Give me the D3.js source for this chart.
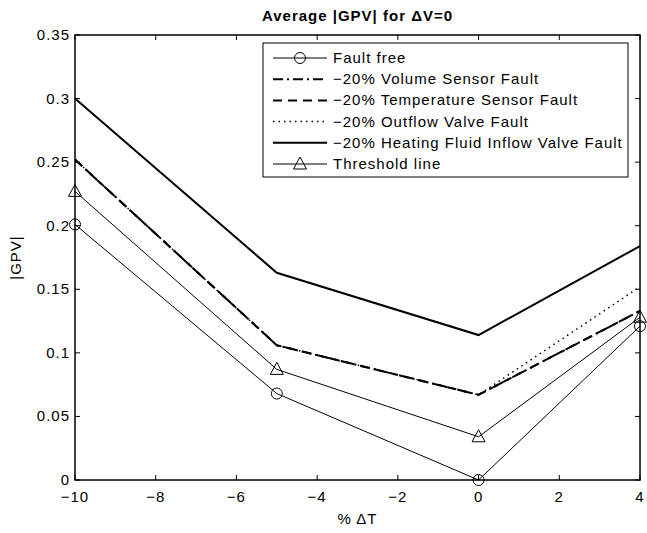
<!DOCTYPE html>
<html>
<head>
<meta charset="utf-8">
<script src="https://cdn.jsdelivr.net/npm/d3@7"></script>
<style>
  body { margin: 0; background: #fff; }
  svg text { font-family: "Liberation Sans", Arial, sans-serif; font-size: 15px; letter-spacing: 1px; fill: #000; }
</style>
</head>
<body>
<div id="chart"></div>
<script>
// Values
const deltaT = [-10, -5, 0, 4];
const faultFree = [0.201, 0.068, 0.000, 0.121];
const volumeSensor = [0.252, 0.106, 0.067, 0.133];
const temperatureSensor = [0.252, 0.106, 0.067, 0.133];
const outflowValve = [0.252, 0.106, 0.067, 0.152];
const heatingValve = [0.300, 0.163, 0.114, 0.184];
const threshold = [0.227, 0.087, 0.034, 0.128];

const xTicks = [-10, -8, -6, -4, -2, 0, 2, 4];
const yTicks = [0, 0.05, 0.1, 0.15, 0.2, 0.25, 0.3, 0.35];
const yTickLabels = ["0", "0.05", "0.1", "0.15", "0.2", "0.25", "0.3", "0.35"];

const seriesNames = [
  "Fault free",
  "\u221220% Volume Sensor Fault",
  "\u221220% Temperature Sensor Fault",
  "\u221220% Outflow Valve Fault",
  "\u221220% Heating Fluid Inflow Valve Fault",
  "Threshold line"
];

const width = 647;
const height = 533;
const margin = { top: 35, right: 7, bottom: 53, left: 75 };

const svg = d3.select("#chart")
  .append("svg")
  .attr("width", width)
  .attr("height", height);

const xScale = d3.scaleLinear()
  .domain([-10, 4])
  .range([margin.left, width - margin.right]);

const yScale = d3.scaleLinear()
  .domain([0, 0.35])
  .range([height - margin.bottom, margin.top]);

// series styling
const styles = [
  { values: faultFree, width: 1, dash: null, marker: "circle" },
  { values: volumeSensor, width: 2, dash: "10,4,2,4", marker: null },
  { values: temperatureSensor, width: 2, dash: "9,6", marker: null },
  { values: outflowValve, width: 1.5, dash: "1.5,4", marker: null },
  { values: heatingValve, width: 2, dash: null, marker: null },
  { values: threshold, width: 1, dash: null, marker: "triangle" }
];

const line = d3.line()
  .x(d => xScale(d[0]))
  .y(d => yScale(d[1]));

function drawMarker(g, type, x, y) {
  if (type === "circle") {
    g.append("circle")
      .attr("cx", x).attr("cy", y).attr("r", 5.5)
      .attr("fill", "none").attr("stroke", "#000").attr("stroke-width", 1);
  } else if (type === "triangle") {
    g.append("path")
      .attr("d", `M${x},${y - 7}L${x + 6.5},${y + 5}L${x - 6.5},${y + 5}Z`)
      .attr("fill", "none").attr("stroke", "#000").attr("stroke-width", 1);
  }
}

// Lines
const plot = svg.append("g");
styles.forEach(s => {
  const pts = deltaT.map((t, i) => [t, s.values[i]]);
  plot.append("path")
    .datum(pts)
    .attr("d", line)
    .attr("fill", "none")
    .attr("stroke", "#000")
    .attr("stroke-width", s.width)
    .attr("stroke-dasharray", s.dash);
  if (s.marker) {
    pts.forEach(p => drawMarker(plot, s.marker, xScale(p[0]), yScale(p[1])));
  }
});

// Axes frame and ticks (MATLAB style, ticks inside on all sides)
const x0 = margin.left, x1 = width - margin.right;
const y0 = height - margin.bottom, y1 = margin.top;
const tickLen = 5;

const axes = svg.append("g");
axes.append("rect")
  .attr("x", x0).attr("y", y1)
  .attr("width", x1 - x0).attr("height", y0 - y1)
  .attr("fill", "none").attr("stroke", "#000").attr("stroke-width", 1.5);

xTicks.forEach(t => {
  const x = xScale(t);
  axes.append("line").attr("x1", x).attr("x2", x).attr("y1", y0).attr("y2", y0 - tickLen)
    .attr("stroke", "#000").attr("stroke-width", 1);
  axes.append("line").attr("x1", x).attr("x2", x).attr("y1", y1).attr("y2", y1 + tickLen)
    .attr("stroke", "#000").attr("stroke-width", 1);
  axes.append("text")
    .attr("x", x).attr("y", y0 + 22)
    .attr("text-anchor", "middle")
    .text(t < 0 ? "\u2212" + Math.abs(t) : String(t));
});

yTicks.forEach((t, i) => {
  const y = yScale(t);
  axes.append("line").attr("x1", x0).attr("x2", x0 + tickLen).attr("y1", y).attr("y2", y)
    .attr("stroke", "#000").attr("stroke-width", 1);
  axes.append("line").attr("x1", x1).attr("x2", x1 - tickLen).attr("y1", y).attr("y2", y)
    .attr("stroke", "#000").attr("stroke-width", 1);
  axes.append("text")
    .attr("x", x0 - 5).attr("y", y + 5)
    .attr("text-anchor", "end")
    .text(yTickLabels[i]);
});

// Title and axis labels
svg.append("text")
  .attr("x", (x0 + x1) / 2).attr("y", 21)
  .attr("text-anchor", "middle")
  .style("font-weight", "bold")
  .text("Average |GPV| for \u0394V=0");

svg.append("text")
  .attr("x", (x0 + x1) / 2).attr("y", 524)
  .attr("text-anchor", "middle")
  .text("% \u0394T");

svg.append("text")
  .attr("transform", `translate(21,${(y0 + y1) / 2}) rotate(-90)`)
  .attr("text-anchor", "middle")
  .text("|GPV|");

// Legend
const legend = svg.append("g").attr("transform", "translate(263,43)");
legend.append("rect")
  .attr("width", 365).attr("height", 134)
  .attr("fill", "#fff").attr("stroke", "#000").attr("stroke-width", 1);

styles.forEach((s, i) => {
  const y = 15 + i * 21.2;
  legend.append("line")
    .attr("x1", 10).attr("x2", 64).attr("y1", y).attr("y2", y)
    .attr("stroke", "#000")
    .attr("stroke-width", s.width)
    .attr("stroke-dasharray", s.dash);
  if (s.marker) drawMarker(legend, s.marker, 37, y);
  legend.append("text")
    .attr("x", 70).attr("y", y + 5)
    .text(seriesNames[i]);
});
</script>
</body>
</html>
